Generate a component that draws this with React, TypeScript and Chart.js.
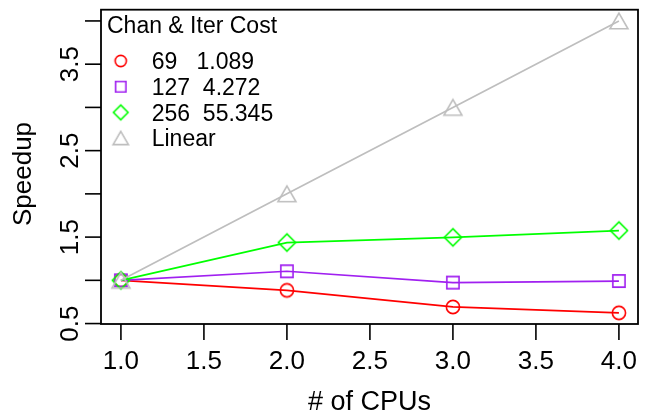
import { useEffect, useRef } from "react";
import { Chart, registerables } from "chart.js";

Chart.register(...registerables);

// Speedup measurements per number of CPUs
const cpus = [1, 2, 3, 4];
const speedup69 = [1.0, 0.884, 0.692, 0.624];
const speedup127 = [1.0, 1.105, 0.974, 0.992];
const speedup256 = [1.0, 1.437, 1.497, 1.576];
const linearSpeedup = [1, 2, 3, 4];

const seriesLabels = ["69   1.089", "127  4.272", "256  55.345", "Linear"];
const seriesColors = ["#FF0000", "#A020F0", "#00FF00", "#BEBEBE"];
const seriesShapes = ["circle", "square", "diamond", "triangle"];
const legendTitle = "Chan & Iter Cost";

const xTicks = [1.0, 1.5, 2.0, 2.5, 3.0, 3.5, 4.0];
const xTickLabels = ["1.0", "1.5", "2.0", "2.5", "3.0", "3.5", "4.0"];
const yTicks = [0.5, 1.0, 1.5, 2.0, 2.5, 3.0, 3.5, 4.0];
const yTickLabels = ["0.5", "", "1.5", "", "2.5", "", "3.5", ""];
const xTitle = "# of CPUs";
const yTitle = "Speedup";

const FONT = "'Liberation Sans', Arial, Helvetica, sans-serif";

// Open plotting symbols drawn onto small canvases so they can be used as point styles
function makeMarker(shape: string, color: string, scale: number): HTMLCanvasElement {
  const size = 26;
  const c = document.createElement("canvas");
  c.width = size;
  c.height = size;
  const g = c.getContext("2d")!;
  const m = size / 2;
  g.strokeStyle = color;
  g.lineWidth = 1.6;
  g.beginPath();
  if (shape === "circle") {
    g.arc(m, m, 6.6 * scale, 0, Math.PI * 2);
  } else if (shape === "square") {
    const h = 6.1 * scale;
    g.rect(m - h, m - h, 2 * h, 2 * h);
  } else if (shape === "diamond") {
    const h = 8.6 * scale;
    g.moveTo(m, m - h);
    g.lineTo(m + h, m);
    g.lineTo(m, m + h);
    g.lineTo(m - h, m);
    g.closePath();
  } else {
    const side = 18 * scale;
    const ht = (side * Math.sqrt(3)) / 2;
    g.moveTo(m, m - ht / 2);
    g.lineTo(m + side / 2, m + ht / 2);
    g.lineTo(m - side / 2, m + ht / 2);
    g.closePath();
  }
  g.stroke();
  return c;
}

export default function App() {
  const canvasRef = useRef<HTMLCanvasElement | null>(null);

  useEffect(() => {
    const canvas = canvasRef.current;
    if (!canvas) return;

    const values = [speedup69, speedup127, speedup256, linearSpeedup];
    const plotMarkers = seriesShapes.map((s, i) => makeMarker(s, seriesColors[i], 1));
    const legendMarkers = seriesShapes.map((s, i) => makeMarker(s, seriesColors[i], 0.85));

    const frame = {
      id: "frame",
      afterDraw(chart: any) {
        const ctx: CanvasRenderingContext2D = chart.ctx;
        const area = chart.chartArea;
        const xs = chart.scales.x;
        const ys = chart.scales.y;
        ctx.save();
        ctx.strokeStyle = "#000";
        ctx.fillStyle = "#000";
        ctx.lineWidth = 1.8;

        // plot box
        ctx.strokeRect(area.left, area.top, area.right - area.left, area.bottom - area.top);

        // x axis ticks and labels
        ctx.lineWidth = 1.6;
        ctx.font = `26px ${FONT}`;
        ctx.textAlign = "center";
        ctx.textBaseline = "alphabetic";
        xTicks.forEach((v, i) => {
          const px = xs.getPixelForValue(v);
          ctx.beginPath();
          ctx.moveTo(px, area.bottom);
          ctx.lineTo(px, area.bottom + 16);
          ctx.stroke();
          ctx.fillText(xTickLabels[i], px, 369);
        });

        // y axis ticks and rotated labels
        yTicks.forEach((v, i) => {
          const py = ys.getPixelForValue(v);
          ctx.beginPath();
          ctx.moveTo(area.left, py);
          ctx.lineTo(area.left - 16, py);
          ctx.stroke();
          if (yTickLabels[i]) {
            ctx.save();
            ctx.translate(78, py);
            ctx.rotate(-Math.PI / 2);
            ctx.fillText(yTickLabels[i], 0, 0);
            ctx.restore();
          }
        });

        // axis titles
        ctx.font = `27px ${FONT}`;
        ctx.fillText(xTitle, (area.left + area.right) / 2, 410);
        ctx.font = `26px ${FONT}`;
        ctx.save();
        ctx.translate(31, 174);
        ctx.rotate(-Math.PI / 2);
        ctx.fillText(yTitle, 0, 0);
        ctx.restore();

        // legend
        ctx.font = `23px ${FONT}`;
        ctx.textAlign = "left";
        ctx.fillText(legendTitle, 107, 33);
        const rowY = [61, 86.7, 112.4, 138];
        seriesLabels.forEach((label, i) => {
          const mk = legendMarkers[i];
          ctx.drawImage(mk, 120.7 - mk.width / 2, rowY[i] - mk.height / 2);
          ctx.fillText(label, 151.7, rowY[i] + 8.2);
        });
        ctx.restore();
      },
    };

    const chart = new Chart(canvas, {
      type: "line",
      data: {
        datasets: values.map((vals, i) => ({
          label: seriesLabels[i],
          data: cpus.map((x, j) => ({ x, y: vals[j] })),
          borderColor: seriesColors[i],
          backgroundColor: "transparent",
          borderWidth: 1.7,
          pointStyle: plotMarkers[i],
          pointRadius: 8,
          tension: 0,
          fill: false,
          order: values.length - i,
          clip: false,
        })),
      },
      options: {
        animation: false,
        responsive: false,
        devicePixelRatio: 1,
        events: [],
        layout: { padding: { left: 101, top: 5, right: 13, bottom: 94 } },
        scales: {
          x: { type: "linear", min: 0.88, max: 4.115, display: false },
          y: { type: "linear", min: 0.495, max: 4.13, display: false },
        },
        plugins: {
          legend: { display: false },
          tooltip: { enabled: false },
        },
      },
      plugins: [frame],
    });

    return () => chart.destroy();
  }, []);

  return (
    <div style={{ position: "absolute", left: 0, top: 0, width: 651, height: 418, background: "#fff" }}>
      <canvas ref={canvasRef} width={651} height={418} />
    </div>
  );
}
